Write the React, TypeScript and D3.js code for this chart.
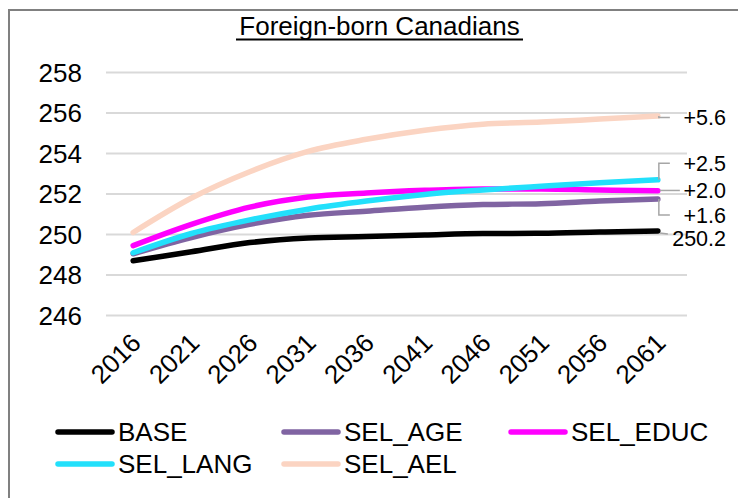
import React from "react";
import * as d3 from "d3";

const years = ["2016", "2021", "2026", "2031", "2036", "2041", "2046", "2051", "2056", "2061"];
const BASE = [248.7, 249.15, 249.6, 249.83, 249.9, 249.98, 250.05, 250.06, 250.12, 250.17];
const SEL_AGE = [249.05, 249.85, 250.5, 250.95, 251.15, 251.35, 251.48, 251.52, 251.65, 251.75];
const SEL_EDUC = [249.45, 250.5, 251.35, 251.85, 252.05, 252.18, 252.25, 252.25, 252.2, 252.16];
const SEL_LANG = [249.1, 250.05, 250.72, 251.25, 251.65, 251.98, 252.2, 252.38, 252.55, 252.7];
const SEL_AEL = [250.1, 251.8, 253.1, 254.1, 254.7, 255.15, 255.45, 255.55, 255.7, 255.85];
const seriesNames = ["BASE", "SEL_AGE", "SEL_EDUC", "SEL_LANG", "SEL_AEL"];
const seriesValues = [BASE, SEL_AGE, SEL_EDUC, SEL_LANG, SEL_AEL];
const seriesColors = ["#000000", "#8064a2", "#ff00ff", "#22e0fb", "#fbd4c2"];
const endLabels = ["250.2", "+1.6", "+2.0", "+2.5", "+5.6"];
const yTicks = [246, 248, 250, 252, 254, 256, 258];
const title = "Foreign-born Canadians";

const FONT = "'Liberation Sans', Arial, sans-serif";

export default function App() {
  const W = 738, H = 498;
  const x = d3.scaleBand<string>().domain(years).range([104, 687]).padding(0);
  const cx = (y: string) => (x(y) as number) + x.bandwidth() / 2;
  const y = d3.scaleLinear().domain([246, 258]).range([315.5, 72.5]);
  const line = d3
    .line<number>()
    .x((_, i) => cx(years[i]))
    .y((d) => y(d))
    .curve(d3.curveMonotoneX);

  const labelDy = [7, 16, -0.3, -16.5, 1.5];
  const lastX = cx(years[years.length - 1]);

  const legendPos = [
    [58, 432],
    [284, 432],
    [511, 432],
    [58, 464],
    [284, 464],
  ];

  return (
    <svg
      width={W}
      height={H}
      style={{ position: "absolute", left: 0, top: 0, background: "#fff" }}
      fontFamily={FONT}
    >
      <rect x={0} y={0} width={W} height={H} fill="#fff" />
      <rect x={9} y={10} width={W + 20} height={H + 20} fill="none" stroke="#808080" strokeWidth={2} />
      <text x={379.5} y={35} textAnchor="middle" fontSize={26} fill="#000">
        {title}
      </text>
      <line x1={236} x2={523} y1={39.5} y2={39.5} stroke="#000" strokeWidth={2} />
      {yTicks.map((t) => (
        <g key={t}>
          <line x1={106} x2={687} y1={y(t)} y2={y(t)} stroke="#d9d9d9" strokeWidth={2} />
          <text x={82} y={y(t)} dy="0.35em" textAnchor="end" fontSize={26} fill="#000">
            {t}
          </text>
        </g>
      ))}
      {years.map((yr) => (
        <text
          key={yr}
          transform={`translate(${cx(yr) + 3},${338}) rotate(-45)`}
          textAnchor="end"
          fontSize={26}
          dy="0.35em"
          fill="#000"
        >
          {yr}
        </text>
      ))}
      {seriesValues.map((vals, i) => (
        <path
          key={seriesNames[i]}
          d={line(vals) as string}
          fill="none"
          stroke={seriesColors[i]}
          strokeWidth={5.5}
          strokeLinecap="round"
          strokeLinejoin="round"
        />
      ))}
      {seriesValues.map((vals, i) => {
        const ey = y(vals[vals.length - 1]);
        const ly = ey + labelDy[i];
        let pts: [number, number][];
        if (i === 0) pts = [[lastX + 2, ey + 2], [lastX + 10, ly - 4]];
        else if (i === 2) pts = [[lastX + 2, ly], [lastX + 22, ly]];
        else pts = [[lastX + 1, ey], [lastX + 1, ly], [lastX + 12, ly]];
        return (
          <path
            key={"l" + i}
            d={d3.line()(pts) as string}
            fill="none"
            stroke="#a6a6a6"
            strokeWidth={1.5}
          />
        );
      })}
      {seriesValues.map((vals, i) => {
        const ey = y(vals[vals.length - 1]);
        return (
          <text
            key={"t" + i}
            x={726}
            y={ey + labelDy[i]}
            dy="0.35em"
            textAnchor="end"
            fontSize={21.5}
            fill="#000"
          >
            {endLabels[i]}
          </text>
        );
      })}
      {seriesNames.map((n, i) => (
        <g key={"lg" + n}>
          <line
            x1={legendPos[i][0]}
            x2={legendPos[i][0] + 54}
            y1={legendPos[i][1]}
            y2={legendPos[i][1]}
            stroke={seriesColors[i]}
            strokeWidth={5.5}
            strokeLinecap="round"
          />
          <text x={legendPos[i][0] + 60} y={legendPos[i][1]} dy="0.35em" fontSize={26} fill="#000">
            {n}
          </text>
        </g>
      ))}
    </svg>
  );
}
